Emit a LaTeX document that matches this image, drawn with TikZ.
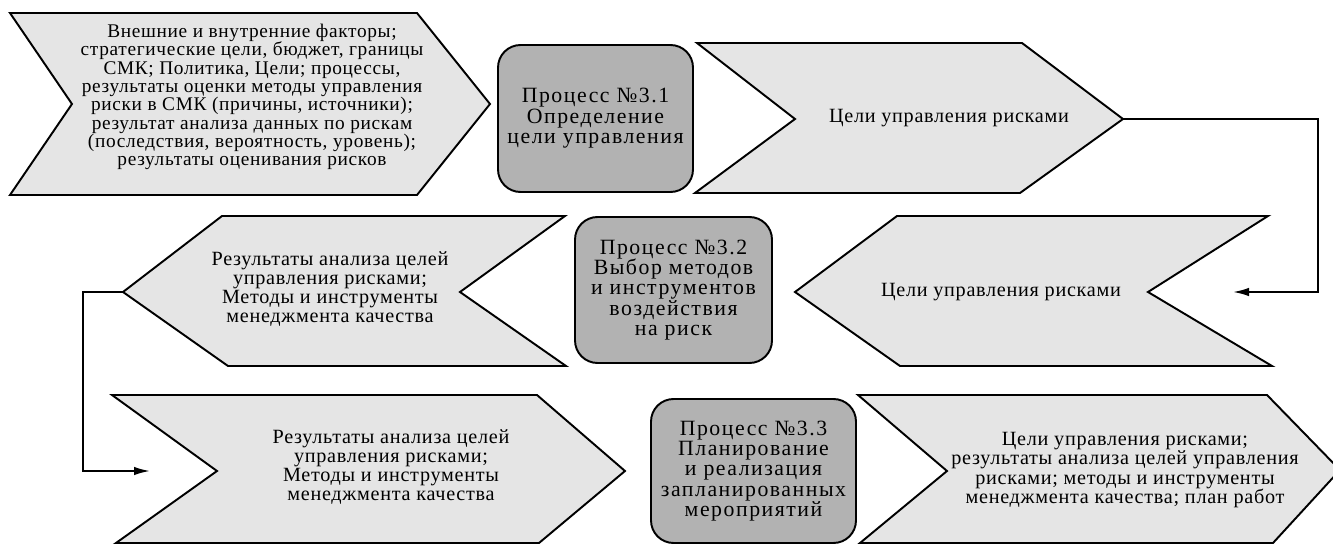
\documentclass[tikz,border=0pt]{standalone}
\usepackage{fontspec}
\setmainfont{Liberation Serif}[LetterSpace=3.5]
\newfontfamily\procfont{Liberation Serif}[LetterSpace=7]
\usetikzlibrary{arrows.meta}

\begin{document}
\begin{tikzpicture}[
    x=0.02cm, y=-0.02cm,
    chev/.style={
        draw=black,
        line width=1.1pt,
        fill=gray!20
    },
    flowtext/.style={
        align=center,
        font=\fontsize{11.5}{10.9}\selectfont,
        inner sep=0pt
    },
    proc/.style={
        rectangle,
        rounded corners=0.45cm,
        draw=black,
        line width=1.1pt,
        fill=gray!60,
        align=center,
        font=\procfont\fontsize{12.4}{11.6}\selectfont,
        inner sep=2pt
    },
    arr/.style={-{Latex[length=3.2mm, width=1.7mm]}, line width=1.1pt}
]
\useasboundingbox (0,0) rectangle (1333,544);

% upper row
\draw[chev] (10,13) -- (417,13) -- (490,104) -- (417,195) -- (10,195) -- (72,104) -- cycle;
\draw[chev] (697,43) -- (1022,43) -- (1123,119) coordinate (goalsout) -- (1020,193) -- (695,193) -- (795,119) -- cycle;

% middle row
\draw[chev] (222,216) -- (565,216) -- (460,292) -- (566,366) -- (228,366) -- (123,292) coordinate (resout) -- cycle;
\draw[chev] (897,216) -- (1268,216) -- (1148,292) -- (1272,366) -- (900,366) -- (795,292) -- cycle;

% lower row
\draw[chev] (112,395) -- (537,395) -- (625,471) -- (539,543) -- (116,543) -- (217,471) -- cycle;
\draw[chev] (858,395) -- (1267,395) -- (1340,470) -- (1273,543) -- (860,543) -- (947,471) -- cycle;

\node[flowtext, font=\fontsize{11}{10.4}\selectfont] (factors) at (252,97) {Внешние и внутренние факторы;\\
    стратегические цели, бюджет, границы\\
    СМК; Политика, Цели; процессы,\\
    результаты оценки методы управления\\
    риски в СМК (причины, источники);\\
    результат анализа данных по рискам\\
    (последствия, вероятность, уровень);\\
    результаты оценивания рисков};
\node[flowtext] (goals1) at (949,118) {Цели управления рисками};
\node[flowtext] (analysis1) at (330,289) {Результаты анализа целей\\ управления рисками;\\ Методы и инструменты\\ менеджмента качества};
\node[flowtext] (goals2) at (1001,292) {Цели управления рисками};
\node[flowtext] (analysis2) at (391,467) {Результаты анализа целей\\ управления рисками;\\ Методы и инструменты\\ менеджмента качества};
\node[flowtext] (plan) at (1125,470) {Цели управления рисками;\\ результаты анализа целей управления\\ рисками; методы и инструменты\\ менеджмента качества; план работ};

\node[proc, minimum width=3.9cm, minimum height=2.94cm] (proc1) at (595.5,118.5) {Процесс №3.1\\ Определение\\ цели управления};
\node[proc, minimum width=3.94cm, minimum height=2.92cm] (proc2) at (673.5,290) {Процесс №3.2\\ Выбор методов\\ и инструментов\\ воздействия\\ на риск};
\node[proc, minimum width=4.1cm, minimum height=2.88cm] (proc3) at (753.5,471) {Процесс №3.3\\ Планирование\\ и реализация\\ запланированных\\ мероприятий};

\coordinate (goalsin) at (1233,292);
\coordinate (resin) at (150,471);

\draw[arr] (goalsout) -- ++(195,0) |- (goalsin);
\draw[arr] (resout) -- ++(-40,0) |- (resin);

\end{tikzpicture}
\end{document}
